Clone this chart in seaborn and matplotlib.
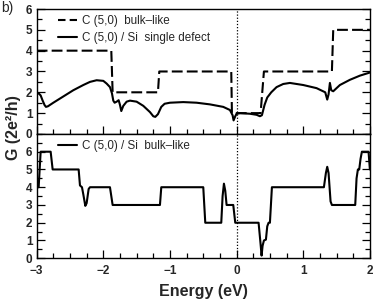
import matplotlib
matplotlib.use("Agg")
import matplotlib.pyplot as plt
import seaborn as sns
import pandas as pd
from matplotlib.ticker import MultipleLocator

# ---- data ----
dash_E = [-3.0, -1.88, -1.86, -1.18, -1.16, -0.08, -0.07, 0.36, 0.41, 1.43, 1.45, 2.0]
dash_G = [4.0, 4.0, 2.0, 2.0, 3.0, 3.0, 1.0, 1.0, 3.0, 3.0, 5.0, 5.0]

defect_E = [-3.0, -2.97, -2.94, -2.91, -2.88, -2.86, -2.83, -2.75, -2.6, -2.45, -2.3, -2.2,
            -2.1, -2.0, -1.95, -1.9, -1.87, -1.85, -1.83, -1.8, -1.77, -1.75, -1.73, -1.7,
            -1.65, -1.6, -1.5, -1.4, -1.3, -1.25, -1.22, -1.18, -1.13, -1.08, -1.0, -0.8,
            -0.6, -0.4, -0.2, -0.1, -0.06, -0.045, -0.02, 0.0, 0.05, 0.2, 0.3, 0.35, 0.38,
            0.42, 0.46, 0.52, 0.6, 0.7, 0.8, 1.0, 1.2, 1.33, 1.36, 1.38, 1.4, 1.42, 1.45,
            1.55, 1.7, 1.85, 2.0]
defect_G = [1.92, 1.95, 1.85, 1.6, 1.38, 1.3, 1.33, 1.5, 1.8, 2.1, 2.35, 2.5,
            2.58, 2.55, 2.42, 2.25, 1.95, 1.6, 1.5, 1.55, 1.62, 1.4, 1.1, 1.35,
            1.55, 1.6, 1.55, 1.35, 1.05, 0.85, 0.82, 0.95, 1.3, 1.45, 1.5, 1.53,
            1.5, 1.42, 1.3, 1.15, 0.9, 0.65, 0.85, 0.97, 1.0, 0.97, 0.92, 0.85, 0.9,
            1.4, 1.75, 2.0, 2.25, 2.4, 2.45, 2.35, 2.2, 2.0, 1.65, 1.9, 2.45, 2.1, 2.05,
            2.35, 2.6, 2.8, 2.95]

bulk_E = [-3.0, -2.97, -2.94, -2.79, -2.76, -2.37, -2.35, -2.32, -2.3, -2.27, -2.25, -2.22,
          -2.2, -1.9, -1.86, -1.15, -1.13, -0.5, -0.47, -0.23, -0.21, -0.19, -0.17, -0.15,
          -0.05, -0.02, 0.33, 0.36, 0.375, 0.39, 0.41, 0.44, 0.46, 0.48, 0.5, 0.53, 1.31,
          1.34, 1.36, 1.38, 1.41, 1.43, 1.78, 1.80, 1.82, 1.84, 1.86, 1.88, 1.98, 2.0]
bulk_G = [4.0, 4.0, 6.0, 6.0, 5.0, 5.0, 4.1, 4.0, 3.6, 2.95, 3.1, 3.9,
          4.0, 4.0, 3.0, 3.0, 4.0, 4.0, 2.0, 2.0, 3.5, 4.2, 3.8, 3.0,
          3.0, 2.0, 2.0, 0.8, 0.15, 0.7, 1.0, 1.05, 1.8, 2.0, 2.0, 4.0, 4.0,
          4.8, 5.15, 4.8, 3.2, 3.0, 3.0, 4.5, 5.0, 5.0, 5.6, 6.0, 6.0, 5.0]

ytick_vals = [0, 1, 2, 3, 4, 5, 6]
xtick_vals = [-3, -2, -1, 0, 1, 2]
xtick_labels = ["\u22123", "\u22122", "\u22121", "0", "1", "2"]

labels = ["C (5,0)  bulk\u2013like", "C (5,0) / Si  single defect", "C (5,0) / Si  bulk\u2013like"]

# ---- style ----
sns.set_theme(style="ticks")
plt.rcParams['font.family'] = ['Liberation Sans', 'DejaVu Sans']
plt.rcParams['axes.linewidth'] = 1.0

DASH = [5.2, 2.0]
LEG_DASH = [3.6, 2.0]

fig = plt.figure(figsize=(3.74, 3.01), dpi=100)
left, right = 0.098, 0.989
ax1 = fig.add_axes([left, 0.555, right - left, 0.970 - 0.555])
ax2 = fig.add_axes([left, 0.142, right - left, 0.555 - 0.142])

df_dash = pd.DataFrame({"E": dash_E, "G": dash_G})
df_def = pd.DataFrame({"E": defect_E, "G": defect_G})
df_bulk = pd.DataFrame({"E": bulk_E, "G": bulk_G})

sns.lineplot(data=df_dash, x="E", y="G", ax=ax1, color="black", lw=1.5,
             estimator=None, sort=False, label=labels[0])
ax1.lines[-1].set_dashes(DASH)
sns.lineplot(data=df_def, x="E", y="G", ax=ax1, color="black", lw=1.5,
             estimator=None, sort=False, label=labels[1])
sns.lineplot(data=df_bulk, x="E", y="G", ax=ax2, color="black", lw=1.5,
             estimator=None, sort=False, label=labels[2])

for ax, ymax in ((ax1, 6), (ax2, 7)):
    ax.axvline(0, color="black", lw=0.9, ls=(0, (1, 1.5)))
    ax.set_xlim(-3, 2)
    ax.set_ylim(0, ymax)
    ax.set_xticks(xtick_vals)
    ax.set_yticks(ytick_vals)
    ax.xaxis.set_minor_locator(MultipleLocator(0.25))
    ax.yaxis.set_minor_locator(MultipleLocator(0.5))
    ax.tick_params(axis='both', which='major', direction='in', length=6, width=0.9,
                   labelsize=8.5, pad=3, right=True, top=False, color='black')
    ax.tick_params(axis='both', which='minor', direction='in', length=3.5, width=0.9,
                   right=True, top=False, color='black')
    for lab in ax.get_yticklabels():
        lab.set_fontweight('bold')
    ax.set_xlabel("")
    ax.set_ylabel("")
    for sp in ax.spines.values():
        sp.set_visible(True)
        sp.set_color("black")

ax1.tick_params(axis='x', which='both', labelbottom=False)
ax2.set_xticklabels(xtick_labels, fontweight='bold')
ax2.tick_params(axis='x', which='major', pad=4.5)

leg_kw = dict(loc="upper left", frameon=False, fontsize=8.4, handlelength=1.6,
              handletextpad=0.45, labelspacing=0.45, borderpad=0.0, borderaxespad=0.0)
leg1 = ax1.legend(bbox_to_anchor=(0.065, 0.955), **leg_kw)
leg2 = ax2.legend(bbox_to_anchor=(0.065, 0.95), **leg_kw)
leg1.get_lines()[0].set_dashes(LEG_DASH)

fig.text(0.035, 0.575, "G (2e\u00b2/h)", rotation=90, va='center', ha='center',
         fontsize=11.5, fontweight='bold')
fig.text(0.545, 0.032, "Energy (eV)", va='center', ha='center', fontsize=11.5,
         fontweight='bold')
fig.text(0.003, 0.972, "b)", va='center', ha='left', fontsize=10)

fig.savefig("out.png", dpi=100)
